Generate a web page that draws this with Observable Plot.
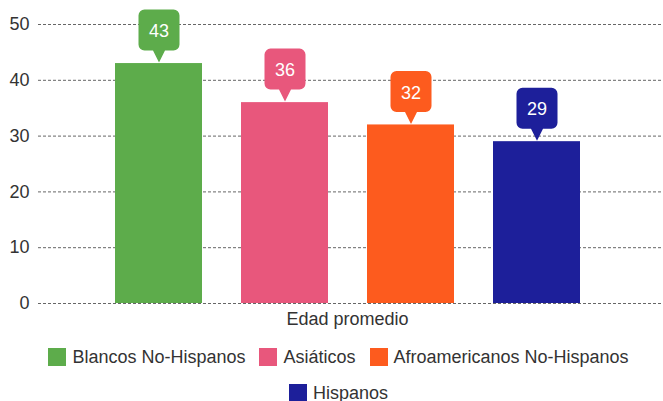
<!DOCTYPE html>
<html>
<head>
<meta charset="utf-8">
<script src="https://cdn.jsdelivr.net/npm/d3@7"></script>
<script src="https://cdn.jsdelivr.net/npm/@observablehq/plot@0.6"></script>
<style>
  html, body { margin: 0; padding: 0; background: #fff; }
  body { width: 663px; font-family: "Liberation Sans", Arial, sans-serif; color: #333; }
  #legend { display: flex; flex-wrap: wrap; justify-content: center; width: 663px; box-sizing: border-box; padding: 0 0 0 14px; margin-top: 12px; row-gap: 16px; column-gap: 14px; font-size: 18px; }
  .item { display: flex; align-items: center; height: 20px; }
  .sw { width: 18px; height: 18px; margin-right: 6px; }
</style>
</head>
<body>
<div id="chart"></div>
<div id="legend"></div>
<script>
const groups = ["Blancos No-Hispanos", "Asiáticos", "Afroamericanos No-Hispanos", "Hispanos"];
const values = [43, 36, 32, 29];
const colors = ["#5dac4b", "#e8577c", "#fd5b1e", "#1d1f9a"];
const yTicks = [0, 10, 20, 30, 40, 50];
const xLabel = "Edad promedio";

const data = groups.map((g, i) => ({group: g, value: values[i]}));

// callout shape: tip at (0,0), rounded box above
const callout = {
  draw(ctx) {
    const w = 20.5, top = -53, bottom = -12, r = 6, pw = 6;
    ctx.moveTo(0, 0);
    ctx.lineTo(-pw, bottom);
    ctx.lineTo(-w + r, bottom);
    ctx.arcTo(-w, bottom, -w, bottom - r, r);
    ctx.lineTo(-w, top + r);
    ctx.arcTo(-w, top, -w + r, top, r);
    ctx.lineTo(w - r, top);
    ctx.arcTo(w, top, w, top + r, r);
    ctx.lineTo(w, bottom - r);
    ctx.arcTo(w, bottom, w - r, bottom, r);
    ctx.lineTo(pw, bottom);
    ctx.closePath();
  }
};

const chart = Plot.plot({
  width: 663,
  height: 335,
  marginTop: 24,
  marginBottom: 32,
  marginLeft: 38,
  marginRight: 0,
  style: {fontFamily: "'Liberation Sans', Arial, sans-serif", fontSize: "18px", color: "#333", background: "#fff"},
  x: {domain: groups, range: [38, 656], paddingInner: 0.31, paddingOuter: 0.607, axis: null},
  y: {domain: [0, 50], axis: null},
  color: {domain: groups, range: colors},
  marks: [
    Plot.ruleY(yTicks, {stroke: "#666", strokeDasharray: "3,2", strokeWidth: 1}),
    Plot.barY(data, {x: "group", y: "value", fill: "group"}),
    Plot.ruleY([0], {stroke: "#666", strokeDasharray: "3,2", strokeWidth: 1}),
    Plot.axisY(yTicks, {tickSize: 0, tickPadding: 9, label: null, fontSize: 18, fill: "#333"}),
    Plot.dot(data, {x: "group", y: "value", fill: "group", symbol: callout, r: 10, dy: -1, stroke: null}),
    Plot.text(data, {x: "group", y: "value", text: d => String(d.value), fill: "white", dy: -32, fontSize: 18}),
    Plot.text([xLabel], {frameAnchor: "bottom", dy: 21, dx: -3.5, fontSize: 18, fill: "#333"})
  ]
});
document.getElementById("chart").appendChild(chart);

const legend = document.getElementById("legend");
groups.forEach((g, i) => {
  const item = document.createElement("div");
  item.className = "item";
  const sw = document.createElement("span");
  sw.className = "sw";
  sw.style.background = colors[i];
  const t = document.createElement("span");
  t.textContent = g;
  item.appendChild(sw);
  item.appendChild(t);
  legend.appendChild(item);
});
</script>
</body>
</html>
